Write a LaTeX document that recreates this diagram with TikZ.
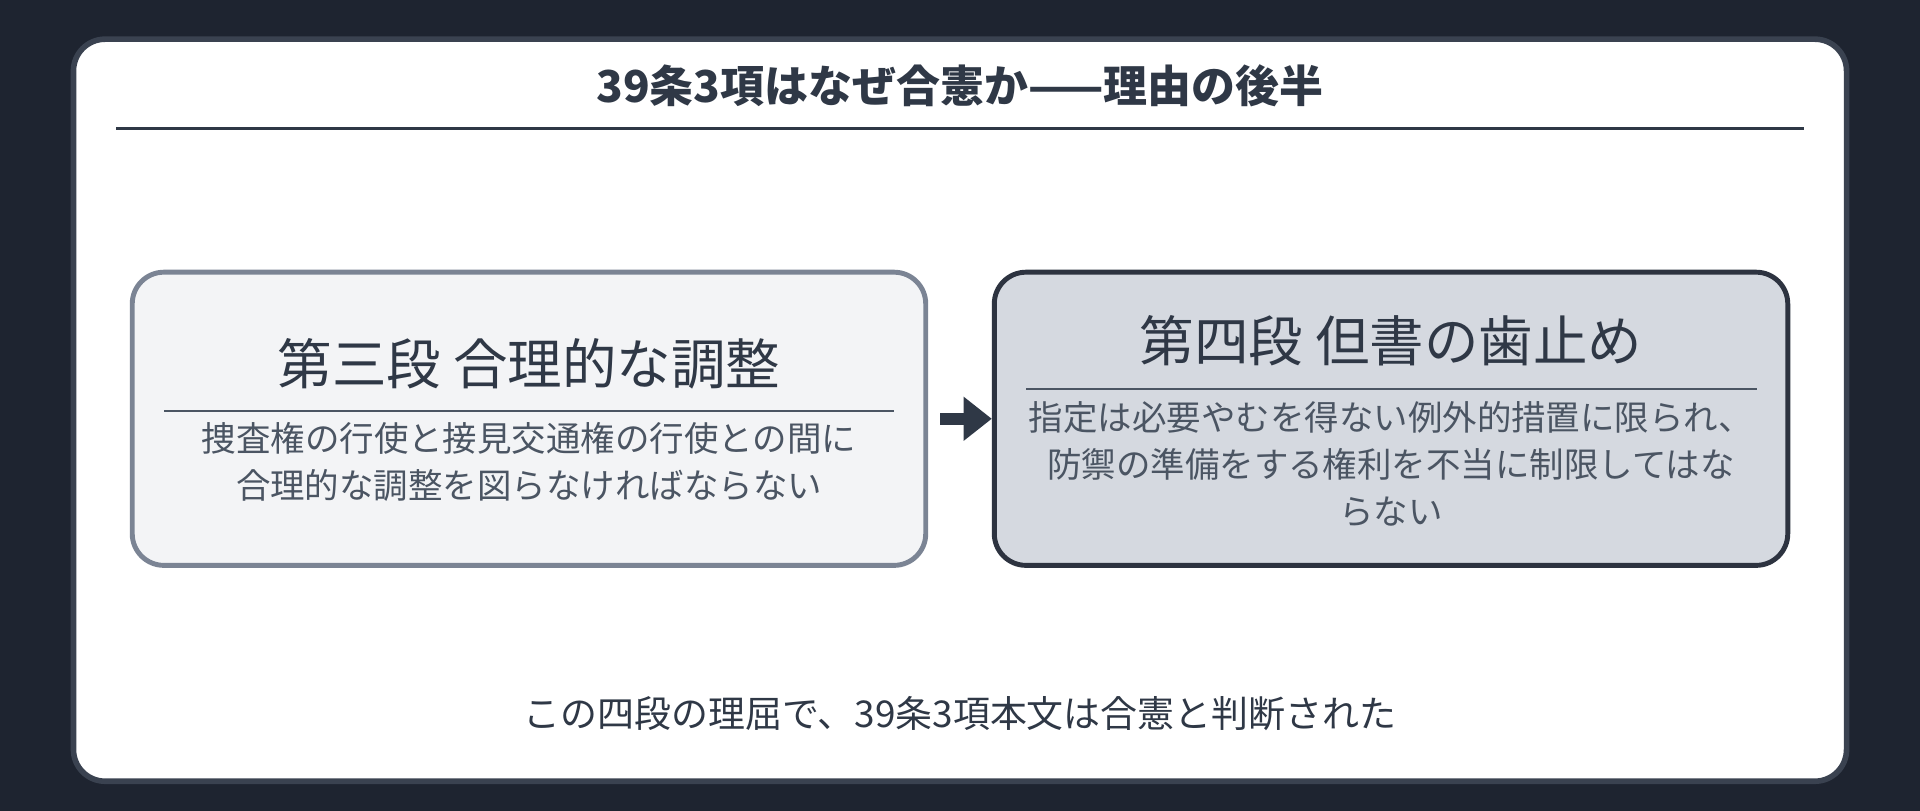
\documentclass[tikz,border=0pt]{standalone}
\usepackage{fontspec}
\setmainfont{Noto Sans CJK JP}
\usetikzlibrary{arrows.meta}
\definecolor{bgdark}{HTML}{1E2430}
\definecolor{cardedge}{HTML}{3A4250}
\definecolor{inkdark}{HTML}{2F3846}
\definecolor{inkbody}{HTML}{4B5563}
\definecolor{lightfill}{HTML}{F3F4F6}
\definecolor{lightedge}{HTML}{7B8494}
\definecolor{darkfill}{HTML}{D5D9E0}
\definecolor{darkedge}{HTML}{2D3340}
\tikzset{
  stage/.style={draw, rounded corners=9pt, line width=1.4pt, minimum width=7.93cm, minimum height=2.93cm},
  heading/.style={font=\fontsize{15.5}{18}\selectfont, text=inkdark},
  body/.style={font=\fontsize{9.8}{13.3}\selectfont, text=inkbody, align=center, text width=7.6cm}
}
\begin{document}
\begin{tikzpicture}[x=0.012245cm, y=-0.012245cm]
  \fill[bgdark] (0,0) rectangle (1568,662);
  \draw[cardedge, fill=white, line width=1.6pt, rounded corners=9pt] (60,32) rectangle (1508,638);
  \node[font=\bfseries\fontsize{12.5}{15}\selectfont, text=inkdark] (title) at (784,70) {39条3項はなぜ合憲か——理由の後半};
  \draw[inkdark, line width=0.9pt] (95,105) -- (1473,105);
  \node[stage, fill=lightfill, draw=lightedge] (left) at (432,342) {};
  \node[stage, fill=darkfill, draw=darkedge] (right) at (1136,342) {};
  \node[heading] (lhead) at (432,297) {第三段 合理的な調整};
  \draw[inkbody, line width=0.6pt] (134,336) -- (730,336);
  \node[body] (lbody) at (432,377) {捜査権の行使と接見交通権の行使との間に\\合理的な調整を図らなければならない};
  \node[heading] (rhead) at (1136,278) {第四段 但書の歯止め};
  \draw[inkbody, line width=0.6pt] (838,318) -- (1435,318);
  \node[body, text width=7.8cm] (rbody) at (1136,379) {指定は必要やむを得ない例外的措置に限られ、\\防禦の準備をする権利を不当に制限してはな\\らない};
  \draw[-{Triangle[length=8pt,width=12pt]}, inkdark, line width=3.5pt] (left.east) ++(10,0) -- (right.west);
  \node[font=\fontsize{10.5}{13}\selectfont, text=inkdark] (footer) at (784,583) {この四段の理屈で、39条3項本文は合憲と判断された};
\end{tikzpicture}
\end{document}
